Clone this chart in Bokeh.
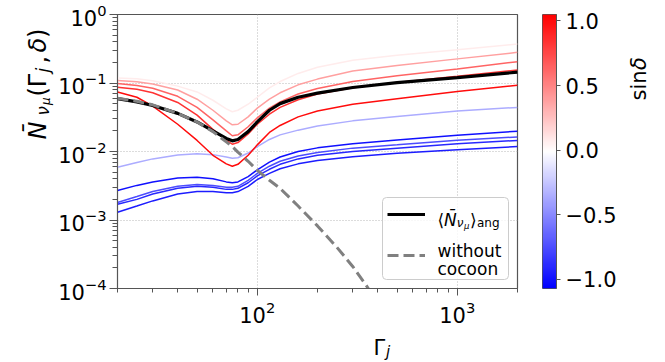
import numpy as np
from bokeh.plotting import figure
from bokeh.models import (ColumnDataSource, FixedTicker, Label, Legend, LegendItem,
                          LinearColorMapper, Range1d, CustomJSTickFormatter, BoxAnnotation)
from bokeh.transform import linear_cmap
from bokeh.layouts import row, column
from bokeh.embed import file_html
from bokeh.resources import INLINE

# ---------------- data ----------------
gamma = [20, 25, 30, 40, 50, 60, 70, 75, 80, 90, 100, 115, 130, 160, 200, 300, 500, 1000, 2000]

sin_delta = [-1.0, -0.75, -0.9, -0.95, -0.35, 0.07, 0.38, 0.63, 0.84, 1.0]

n_b1 = [0.0027, 0.0032, 0.0036, 0.0041, 0.0042, 0.0040, 0.0036, 0.0035, 0.0036, 0.0043, 0.0054, 0.0070, 0.0083, 0.0100, 0.0113, 0.0130, 0.0147, 0.0172, 0.0198]
n_b2 = [0.0018, 0.0022, 0.0026, 0.0031, 0.0033, 0.0032, 0.0030, 0.0030, 0.0031, 0.0038, 0.0048, 0.0061, 0.0072, 0.0086, 0.0097, 0.0112, 0.0125, 0.0146, 0.0163]
n_b3 = [0.0017, 0.0020, 0.0024, 0.0029, 0.0031, 0.0030, 0.0028, 0.0028, 0.0029, 0.0035, 0.0044, 0.0055, 0.0065, 0.0078, 0.0088, 0.0100, 0.0112, 0.0130, 0.0145]
n_b4 = [0.0013, 0.0016, 0.0019, 0.0024, 0.0026, 0.0026, 0.0025, 0.0025, 0.0026, 0.0031, 0.0039, 0.0048, 0.0056, 0.0066, 0.0074, 0.0084, 0.0094, 0.0106, 0.0118]
n_lb = [0.0059, 0.0069, 0.0078, 0.0089, 0.0093, 0.0090, 0.0083, 0.0080, 0.0081, 0.0095, 0.0118, 0.0150, 0.0175, 0.0205, 0.0235, 0.0280, 0.0325, 0.0390, 0.0440]
n_p0 = [0.118, 0.115, 0.108, 0.090, 0.074, 0.056, 0.042, 0.038, 0.040, 0.049, 0.062, 0.085, 0.105, 0.138, 0.170, 0.215, 0.255, 0.305, 0.370]
n_p1 = [0.109, 0.104, 0.097, 0.079, 0.058, 0.040, 0.028, 0.0245, 0.025, 0.032, 0.043, 0.058, 0.072, 0.094, 0.114, 0.150, 0.180, 0.225, 0.280]
n_p2 = [0.098, 0.092, 0.084, 0.064, 0.044, 0.029, 0.020, 0.017, 0.0175, 0.023, 0.031, 0.043, 0.053, 0.069, 0.083, 0.105, 0.128, 0.160, 0.205]
n_p3 = [0.087, 0.081, 0.072, 0.052, 0.034, 0.021, 0.0145, 0.0128, 0.0135, 0.018, 0.025, 0.035, 0.044, 0.057, 0.069, 0.085, 0.102, 0.125, 0.155]
n_r = [0.074, 0.062, 0.046, 0.025, 0.0145, 0.0088, 0.0066, 0.0061, 0.0065, 0.0088, 0.0125, 0.019, 0.024, 0.032, 0.039, 0.049, 0.059, 0.075, 0.093]

n_avg = [0.059, 0.053, 0.047, 0.036, 0.027, 0.020, 0.0155, 0.0143, 0.0150, 0.0195, 0.027, 0.040, 0.050, 0.062, 0.071, 0.086, 0.101, 0.120, 0.144]

gamma_nc = [20, 25, 30, 40, 50, 60, 70, 75, 80, 90, 100, 115, 130, 160, 200, 250, 300, 350, 400]
n_nc = [0.060, 0.054, 0.048, 0.036, 0.027, 0.0195, 0.0138, 0.0118, 0.0098, 0.0072, 0.0053, 0.0038, 0.0029, 0.0016, 0.00082, 0.00040, 0.00021, 0.000112, 0.00006]

x_major = [100, 1000]
x_minor = [20, 30, 40, 50, 60, 70, 80, 90, 200, 300, 400, 500, 600, 700, 800, 900, 2000]
y_major = [1e-4, 1e-3, 1e-2, 1e-1, 1]
y_minor = [k * 10.0 ** e for e in range(-4, 0) for k in range(2, 10)]
cbar_ticks = [-1.0, -0.5, 0.0, 0.5, 1.0]
c_low, c_high = -1.07, 1.05

# bwr colormap
bwr = []
for i in range(256):
    t = i / 255
    if t < 0.5:
        r = g = 2 * t; b = 1.0
    else:
        r = 1.0; g = b = 2 * (1 - t)
    bwr.append("#%02x%02x%02x" % (round(r * 255), round(g * 255), round(b * 255)))

FONT = "DejaVu Sans"
AX = "#555555"
H = 360
LW = 54          # width of left label strip
MW = 545 - LW    # width of main figure (ends at x=541)


def blank(w, h):
    f = figure(width=w, height=h, x_range=Range1d(0, 1), y_range=Range1d(0, 1),
               toolbar_location=None, output_backend="svg",
               x_axis_location=None, y_axis_location=None,
               min_border=0, min_border_left=0, min_border_right=0,
               min_border_top=0, min_border_bottom=0)
    f.grid.visible = False
    f.outline_line_color = None
    f.background_fill_color = "white"
    f.border_fill_color = "white"
    return f


def lab(fig, x, y, text, size, italic=False, angle=0.0):
    fig.add_layout(Label(x=x, y=y, x_units="screen", y_units="screen", text=text,
                         text_font=FONT, text_font_size=f"{size:.1f}px",
                         text_font_style="italic" if italic else "normal",
                         text_color="black", angle=angle, text_align="left",
                         text_baseline="alphabetic", level="overlay"))


# ---------------- main figure ----------------
p = figure(width=MW - 4, height=328, x_axis_type="log", y_axis_type="log",
           x_range=Range1d(20, 2000), y_range=Range1d(1e-4, 1),
           toolbar_location=None, output_backend="svg",
           min_border_left=117 - LW, min_border_right=24, min_border_top=14, min_border_bottom=40)
p.background_fill_color = "white"
p.outline_line_color = AX
p.outline_line_width = 1.2

src = ColumnDataSource(dict(
    xs=[gamma] * 10,
    ys=[n_b1, n_b2, n_b3, n_b4, n_lb, n_p0, n_p1, n_p2, n_p3, n_r],
    s=sin_delta))
p.multi_line(xs="xs", ys="ys", source=src, line_width=1.5,
             line_color=linear_cmap("s", bwr, c_low, c_high))

r_avg = p.line(gamma, n_avg, line_color="black", line_width=3.2)
r_nc = p.line(gamma_nc, n_nc, line_color="#808080", line_width=3, line_dash="11 5")

for ax in (p.xaxis, p.yaxis):
    ax.axis_line_color = AX
    ax.major_tick_line_color = AX
    ax.minor_tick_line_color = AX
    ax.major_tick_in = 0
    ax.minor_tick_in = 0
    ax.major_label_text_font = FONT
    ax.major_label_text_font_size = "21px"
    ax.major_label_text_color = "black"
p.xaxis.major_tick_out = 7
p.xaxis.minor_tick_out = 4
p.yaxis.major_tick_out = 8
p.yaxis.minor_tick_out = 5
p.xaxis.ticker = FixedTicker(ticks=x_major, minor_ticks=x_minor)
p.yaxis.ticker = FixedTicker(ticks=y_major, minor_ticks=y_minor)
p.xaxis.major_label_standoff = 5
p.yaxis.major_label_standoff = 3

p.xgrid.ticker = FixedTicker(ticks=x_major)
p.ygrid.ticker = FixedTicker(ticks=y_major)
for g in (p.xgrid, p.ygrid):
    g.grid_line_color = "#b0b0b0"
    g.grid_line_dash = "1 2"
    g.grid_line_width = 0.9

# legend frame (semi-transparent white box under the legend entries)
p.add_layout(BoxAnnotation(left=265, right=391, bottom=9, top=91,
                           left_units="screen", right_units="screen",
                           bottom_units="screen", top_units="screen",
                           fill_color="white", fill_alpha=0.8,
                           line_color="#cccccc", line_width=1, line_alpha=1,
                           border_radius=4, level="underlay"))

# legend samples (one single-entry legend per sample, texts drawn as labels)
for rend, ybot in ((r_avg, 64), (r_nc, 23)):
    p.add_layout(Legend(items=[LegendItem(label=" ", renderers=[rend])],
                        location=(270, ybot), padding=0, spacing=0, margin=0,
                        glyph_width=38, glyph_height=20, label_height=20,
                        label_width=1, label_standoff=0,
                        label_text_font_size="17px",
                        border_line_color=None, background_fill_alpha=0))

# legend labels
lx, ly = 320, 69
lab(p, lx, ly, "\u27e8", 17)
lab(p, lx + 6.6, ly, "N\u0304", 17, italic=True)
lab(p, lx + 19.3, ly - 3.5, "\u03bd", 12, italic=True)
lab(p, lx + 26.4, ly - 6, "\u03bc", 8.5, italic=True)
lab(p, lx + 32.5, ly, "\u27e9", 17)
lab(p, lx + 39.5, ly - 3.5, "ang", 12)
lab(p, lx, 38, "without", 17)
lab(p, lx, 20, "cocoon", 17)

# ---------------- left strip: y axis label ----------------
L = blank(LW, H)
A = np.pi / 2
fs = 24
bx, y0 = 37, H - 212
lab(L, bx, y0 + 1, "N\u0304", fs, italic=True, angle=A)
lab(L, bx + 5, y0 + 25, "\u03bd", fs * 0.7, italic=True, angle=A)
lab(L, bx + 8, y0 + 35.5, "\u03bc", fs * 0.5, italic=True, angle=A)
lab(L, bx, y0 + 44, "(\u0393", fs, angle=A)
lab(L, bx + 5, y0 + 68, "j", fs * 0.7, italic=True, angle=A)
lab(L, bx, y0 + 77, ",", fs, angle=A)
lab(L, bx, y0 + 88, "\u03b4", fs, italic=True, angle=A)
lab(L, bx, y0 + 102.5, ")", fs, angle=A)

# ---------------- bottom strip: x axis label ----------------
B = blank(MW - 4, H - 328)
lab(B, 310 - LW, 13, "\u0393", 21)
lab(B, 310 - LW + 12.5, 9, "j", 15, italic=True)

# ---------------- colorbar figure ----------------
mapper = LinearColorMapper(palette=bwr, low=c_low, high=c_high)
grad = np.linspace(c_low, c_high, 256).reshape(-1, 1)
cb = figure(width=80, height=H, x_range=Range1d(0, 1), y_range=Range1d(c_low, c_high),
            toolbar_location=None, output_backend="svg", x_axis_location=None,
            y_axis_location="right",
            min_border_left=1, min_border_right=65, min_border_top=14, min_border_bottom=H - 288)
cb.image(image=[grad], x=0, y=c_low, dw=1, dh=c_high - c_low, color_mapper=mapper)
cb.grid.visible = False
cb.outline_line_color = AX
cb.border_fill_color = "white"
cb.yaxis.ticker = FixedTicker(ticks=cbar_ticks)
cb.yaxis.formatter = CustomJSTickFormatter(code="return tick.toFixed(1).replace('-', '\u2212')")
cb.yaxis.axis_line_color = AX
cb.yaxis.major_tick_line_color = AX
cb.yaxis.major_tick_in = 0
cb.yaxis.major_tick_out = 4
cb.yaxis.minor_tick_line_color = None
cb.yaxis.major_label_text_font = FONT
cb.yaxis.major_label_text_font_size = "21px"
cb.yaxis.major_label_text_color = "black"
cb.yaxis.major_label_standoff = 5

# ---------------- right strip: colorbar label ----------------
R = blank(42, H)
lab(R, 17, H - 172, "sin", 21, angle=A)
lab(R, 17, H - 172 + 30.5, "\u03b4", 21, italic=True, angle=A)

layout = row(L, column(p, B, spacing=0), cb, R, spacing=0)
open("out.html", "w").write(file_html(layout, INLINE))
